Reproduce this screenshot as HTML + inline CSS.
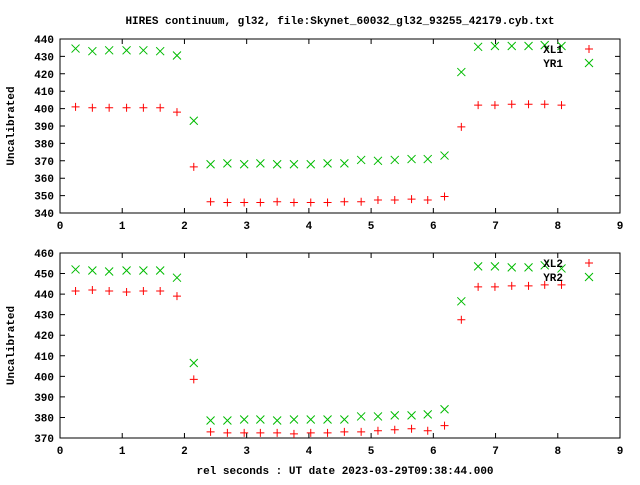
<!DOCTYPE html>
<html><head><meta charset="utf-8"><style>
body{margin:0;background:#fff}
svg text{font-family:"Liberation Mono",monospace;font-size:11px;font-weight:bold;fill:#000}
</style></head><body>
<svg id="c" width="640" height="480" xmlns="http://www.w3.org/2000/svg">
<text x="340" y="24" text-anchor="middle">HIRES continuum, gl32, file:Skynet_60032_gl32_93255_42179.cyb.txt</text>
<text x="345" y="474" text-anchor="middle">rel seconds : UT date 2023-03-29T09:38:44.000</text>
</svg>
<script>
const xs=[0.25,0.52,0.79,1.07,1.34,1.61,1.88,2.15,2.42,2.69,2.96,3.22,3.49,3.76,4.03,4.30,4.57,4.84,5.11,5.38,5.65,5.91,6.18,6.45,6.72,6.99,7.26,7.53,7.79,8.06];
const xl1=[401,400.5,400.5,400.5,400.5,400.5,398,366.5,346.5,346,346,346,346.5,346,346,346,346.5,346.5,347.5,347.5,348,347.5,349.5,389.5,402,402,402.5,402.5,402.5,402];
const yr1=[434.5,433,433.5,433.5,433.5,433,430.5,393,368,368.5,368,368.5,368,368,368,368.5,368.5,370.5,370,370.5,371,371,373,421,435.5,436,436,436,436.5,436];
const xl2=[441.5,442,441.5,441,441.5,441.5,439,398.5,373,372.5,372.5,372.5,372.5,372,372.5,372.5,373,373,373.5,374,374.5,373.5,376,427.5,443.5,443.5,444,444,444.5,444.5];
const yr2=[452,451.5,451,451.5,451.5,451.5,448,406.5,378.5,378.5,379,379,378.5,379,379,379,379,380.5,380.5,381,381,381.5,384,436.5,453.5,453.5,453,453,454,452.5];
const xTicks=[0,1,2,3,4,5,6,7,8,9];
const yTicks1=[340,350,360,370,380,390,400,410,420,430,440];
const yTicks2=[370,380,390,400,410,420,430,440,450,460];
const svg=document.getElementById('c');
const NS='http://www.w3.org/2000/svg';
function mk(t,a){const e=document.createElementNS(NS,t);for(const k in a)e.setAttribute(k,a[k]);svg.appendChild(e);return e;}
function panel(id,top,bot,ymin,ymax,yt,s1,s2,n1,n2){
  const L=60,R=620;
  const X=v=>L+(v-0)/(9-0)*(R-L);
  const Y=v=>bot-(v-ymin)/(ymax-ymin)*(bot-top);
  const f=mk('rect',{x:L,y:top,width:R-L,height:bot-top,fill:'none',stroke:'#000','stroke-width':1});
  
  
  xTicks.forEach(t=>{
    const x=X(t);
    const l=mk('path',{d:`M${x} ${bot}v-5M${x} ${top}v5`,stroke:'#000'});
    
    
    const tx=mk('text',{x:x,y:bot+16,'text-anchor':'middle'});tx.textContent=t;
    
    
  });
  yt.forEach(t=>{
    const y=Y(t);
    const l=mk('path',{d:`M${L} ${y}h5M${R} ${y}h-5`,stroke:'#000'});
    
    
    const tx=mk('text',{x:L-6,y:y+4,'text-anchor':'end'});tx.textContent=t;
    
    
  });
  const yl=mk('text',{x:0,y:0,'text-anchor':'middle',transform:`translate(14 ${(top+bot)/2}) rotate(-90)`});
  yl.textContent='Uncalibrated';
  
  
  xs.forEach((v,i)=>{
    const x=X(v),y=Y(s1[i]);
    const p=mk('path',{d:`M${x-4} ${y}h8M${x} ${y-4}v8`,stroke:'#f00','stroke-width':1});
    
    
    const y2=Y(s2[i]);
    const q=mk('path',{d:`M${x-4} ${y2-4}l8 8M${x-4} ${y2+4}l8 -8`,stroke:'#0b0','stroke-width':1});
    
    
  });
  const t1=mk('text',{x:563,y:top+14,'text-anchor':'end'});t1.textContent=n1;
  
  
  const m1=mk('path',{d:`M${585} ${top+10}h8M589 ${top+6}v8`,stroke:'#f00'});
  
  
  const t2=mk('text',{x:563,y:top+28,'text-anchor':'end'});t2.textContent=n2;
  
  
  const m2=mk('path',{d:`M585 ${top+20}l8 8M585 ${top+28}l8 -8`,stroke:'#0b0'});
  
  
}
panel('top-panel',39,213,340,440,yTicks1,xl1,yr1,'XL1','YR1');
panel('bottom-panel',253,438,370,460,yTicks2,xl2,yr2,'XL2','YR2');
</script>
</body></html>
